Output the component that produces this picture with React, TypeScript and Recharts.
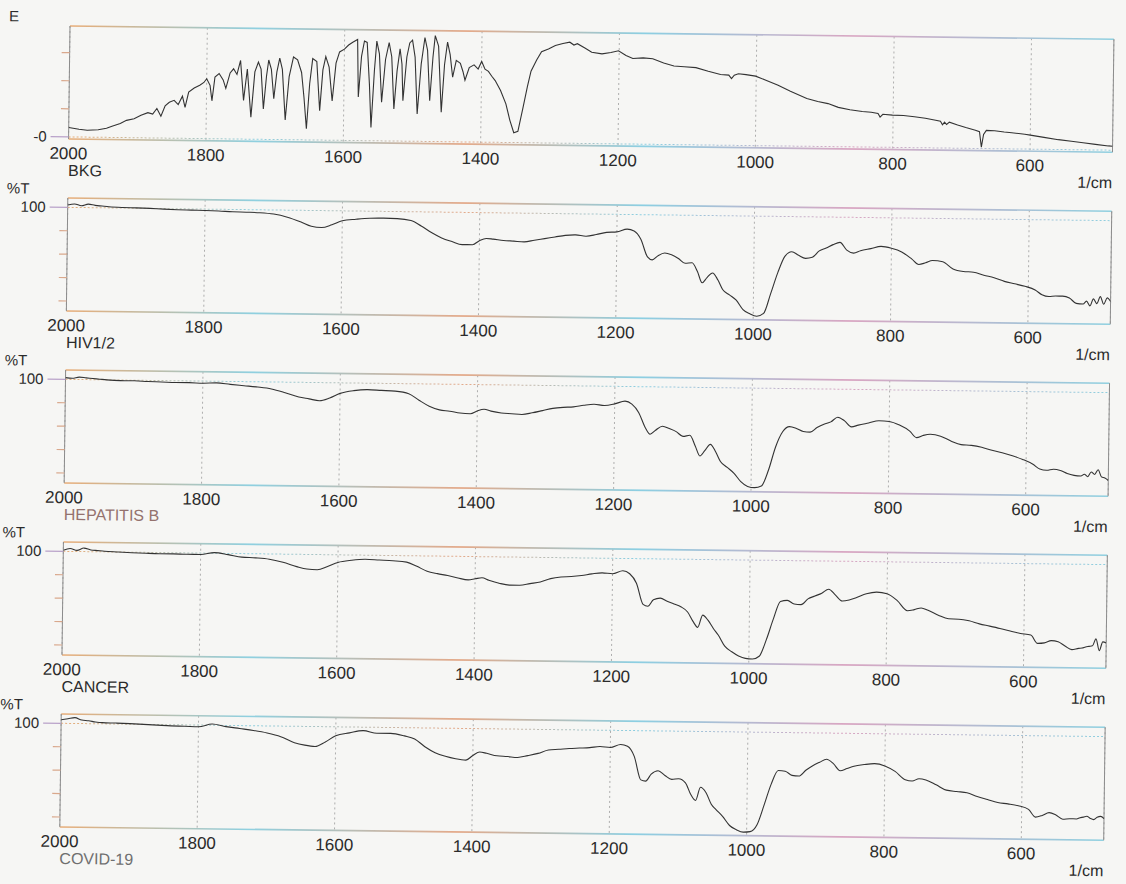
import { CartesianGrid, Line, LineChart, ReferenceLine, XAxis, YAxis } from "recharts";

// wavenumber ticks shared by every panel
const X_TICKS = [2000, 1800, 1600, 1400, 1200, 1000, 800, 600];

// background (BKG) scan, water vapour lines need a denser grid
const BKG_WN = [
  2000, 1985, 1973, 1957, 1945, 1937, 1925, 1916, 1905, 1895,
  1885, 1878, 1872, 1866, 1860, 1854, 1847, 1841, 1835, 1831,
  1826, 1818, 1810, 1804, 1800, 1795, 1792, 1788, 1782, 1776,
  1772, 1766, 1761, 1756, 1751, 1746, 1741, 1735, 1730, 1725,
  1721, 1717, 1713, 1710, 1706, 1702, 1698, 1694, 1690, 1685,
  1680, 1674, 1668, 1662, 1658, 1654, 1650, 1646, 1640, 1635,
  1631, 1627, 1622, 1617, 1612, 1607, 1600, 1594, 1588, 1581,
  1579, 1575, 1571, 1567, 1563, 1560, 1556, 1553, 1549, 1545,
  1540, 1535, 1531, 1527, 1523, 1519, 1516, 1514, 1509, 1505,
  1501, 1497, 1493, 1488, 1483, 1479, 1475, 1471, 1468, 1463,
  1458, 1454, 1450, 1446, 1442, 1437, 1431, 1427, 1424, 1418,
  1411, 1405, 1400, 1395, 1390, 1385, 1380, 1372, 1364, 1358,
  1352, 1346, 1339, 1333, 1328, 1320, 1313, 1303, 1293, 1282,
  1272, 1266, 1261, 1250, 1240, 1225, 1212, 1201, 1190, 1180,
  1165, 1151, 1135, 1120, 1105, 1088, 1070, 1052, 1040, 1036,
  1032, 1026, 1015, 1001, 985, 968, 950, 926, 910, 895,
  880, 863, 845, 832, 822, 819, 815, 801, 785, 769,
  753, 738, 731, 728, 725, 722, 718, 706, 694, 680,
  674, 671, 668, 664, 652, 638, 627, 617, 608, 600,
  580, 559, 540, 523, 505, 486, 480,
];
const BKG_T = [
  6.7, 5.5, 4.9, 5.3, 6.5, 8, 10, 12.3, 13.5, 16,
  18, 17, 21, 15.5, 23, 25.6, 27, 24, 30, 22,
  33, 36, 38, 40, 42.7, 38, 27, 44, 46.5, 42,
  36, 47, 50, 46, 56, 27.6, 50, 15.7, 48, 55,
  50, 21.6, 45, 56.6, 50, 29, 48, 58, 50, 14,
  45, 59, 57, 48, 30, 8, 40, 58, 56, 21,
  50, 59.5, 52, 28, 55, 63, 65, 68, 70, 72,
  31, 60, 71, 70, 40, 9.4, 50, 71, 62, 27.5,
  58, 70, 60, 22.8, 50, 65.8, 55, 28.8, 60, 70,
  72, 60, 19.5, 55, 74, 65, 29, 60, 75.5, 68,
  21, 55, 70.9, 62, 46, 58, 56, 50, 44, 53,
  55, 52, 57.5, 52, 50.5, 47, 44, 37, 27.5, 16,
  7, 8, 25, 40, 51, 59, 65, 67, 69.5, 71,
  72, 70, 71, 68, 65, 64, 65, 66.3, 63, 61,
  61.5, 61, 58, 56, 55.5, 55, 52.5, 50.4, 50, 47.5,
  50, 51, 50.5, 49.5, 46.5, 43.3, 39, 34, 32, 30.6,
  28, 26.4, 25.3, 24.8, 24, 21.5, 23.5, 23, 22.8, 22,
  21, 19.7, 19, 16.5, 18.5, 16.8, 18.5, 16.5, 14.8, 13,
  12, 1, 10, 13, 12.8, 12, 11.5, 11, 10.5, 10,
  8.5, 7, 6, 5, 4, 3, 2.8,
];

// sample spectra share one wavenumber grid
const WN = [
  2000, 1990, 1980, 1970, 1960, 1950, 1940, 1920, 1900, 1880,
  1860, 1840, 1820, 1800, 1780, 1760, 1740, 1720, 1700, 1680,
  1660, 1645, 1630, 1615, 1600, 1580, 1560, 1540, 1520, 1500,
  1485, 1470, 1455, 1440, 1425, 1410, 1400, 1390, 1380, 1365,
  1350, 1335, 1320, 1305, 1290, 1275, 1260, 1245, 1230, 1215,
  1200, 1185, 1175, 1165, 1155, 1148, 1140, 1130, 1120, 1110,
  1100, 1090, 1082, 1075, 1068, 1060, 1052, 1045, 1035, 1025,
  1015, 1005, 995, 985, 975, 965, 955, 945, 935, 925,
  915, 905, 895, 885, 875, 865, 855, 845, 830, 815,
  800, 785, 770, 760, 750, 740, 725, 710, 695, 680,
  665, 650, 635, 620, 605, 590, 580, 570, 560, 550,
  540, 530, 520, 515, 510, 505, 500, 495, 490, 485,
  480,
];
const HIV = [
  102, 103, 101.5, 103, 102, 101.5, 101, 100.5, 100.3, 100,
  99.5, 99.2, 99, 98.8, 98.5, 98, 97.8, 97.5, 96.5, 94,
  90, 86.5, 85.5, 88, 91.5, 93, 94, 94.2, 94, 92.5,
  88, 82.5, 78, 75, 72.5, 72.5, 76, 78, 77.5, 76.5,
  76, 75.5, 77, 78.5, 80, 81.5, 82, 81, 82.5, 84.5,
  85, 87.5, 86, 79, 64, 61.5, 65, 67.5, 66, 63,
  59, 59.5, 52, 42.5, 47, 51, 45, 37, 32.5, 28,
  20, 16.5, 14.5, 17, 34, 52, 66, 70, 67, 64.5,
  65.5, 71, 73.5, 76.5, 78.5, 72, 69.5, 71.5, 73.5, 75.5,
  74, 71, 65, 60.5, 62, 64, 63, 57, 55, 54.5,
  52, 50, 47, 45, 43, 40, 36, 34.5, 35, 35,
  33.5, 29, 28.5, 31, 27, 33, 29, 35, 28.5, 34,
  31,
];
const HEP_B = [
  101.5, 101, 102, 101.5, 101, 100.5, 100, 99.5, 99.5, 99,
  98.8, 98.5, 98.5, 98.2, 98.6, 97.5, 96.5, 95.5, 94, 91,
  87.5, 86, 84.5, 87, 91, 93.5, 94.5, 94, 93.5, 91.5,
  86, 81, 78, 77, 75.5, 75, 77.5, 79, 77.5, 76,
  75.5, 75, 76.5, 78.5, 80.5, 81.5, 82, 83.5, 84.5, 83.5,
  85, 87.5, 85, 78, 65, 59.5, 63, 66.5, 64.5, 62,
  58, 59, 50, 41.5, 46, 51.5, 45, 37, 32, 27,
  20, 16, 15, 16.5, 30, 50, 63, 67.5, 66, 63.5,
  63, 67, 70, 72, 76, 73, 68, 69.5, 71.5, 73.5,
  73, 70, 65, 59.5, 61.5, 62.5, 61, 57, 54, 53.5,
  52, 49.5, 47.5, 45, 42, 38, 34, 33, 34, 33,
  30.5, 29, 28.5, 30, 28, 32, 30, 34, 28, 27,
  25,
];
const CANCER = [
  101, 102.5, 101, 103, 101.5, 101, 100.5, 100, 99.5, 99.2,
  99, 99, 98.8, 98.8, 100.5, 99, 97, 96.5, 95.5, 93,
  89.5, 87.5, 87, 90, 93.5, 95.5, 96.5, 96, 95.5, 94.5,
  91, 87, 85, 83.5, 81.5, 80, 81, 82, 80, 77.5,
  76, 76, 77.5, 79, 82, 83.5, 84, 85, 86.5, 87.5,
  86.8, 89.5, 87, 79, 61, 59.5, 65, 66.5, 64, 61.7,
  59.4, 55, 47, 42, 52.5, 48, 41, 35.7, 26, 21.5,
  18, 16, 15.5, 18, 32, 50, 65, 66, 63, 62.5,
  67.5, 70, 72.5, 76, 71, 66, 67, 69, 72.5, 74,
  72.8, 67, 58.5, 59.5, 61, 59, 55, 52, 51.8, 50.5,
  48, 46.2, 44.3, 42.2, 40.3, 39, 32, 32.5, 34.5, 33.6,
  30, 27, 28.2, 28.5, 29.5, 30, 30.5, 36.5, 26.5, 34,
  33,
];
const COVID = [
  103, 104, 105, 103, 102.5, 101.5, 101, 100.8, 100.5, 100,
  99.5, 99, 98.8, 98.5, 101, 99, 97.5, 96, 94, 91,
  86, 84, 83, 87, 92.4, 95, 97, 95, 95, 93,
  90.5, 84, 79, 76, 74, 73, 77, 80, 79, 77,
  76.5, 75.8, 77.5, 79.5, 82.5, 83.2, 84, 84.5, 85, 86,
  85.3, 88, 86.5, 78, 58, 57, 63, 66, 62, 58.8,
  59.4, 56, 46, 41, 52.4, 48, 38, 33.5, 27.5, 20,
  16.5, 14.5, 15, 21, 38, 56, 67.5, 67, 63.5, 63,
  68, 72, 75, 77.6, 74, 68, 70, 72, 73.5, 74.4,
  72.6, 68, 61, 60, 62, 61, 57, 52.6, 51.5, 50.6,
  47.5, 45, 42.6, 41.5, 40, 37, 30.5, 32, 34.5, 32.5,
  29, 29.5, 29.4, 30.5, 31, 31.8, 30, 29, 31, 31.8,
  30,
];

const FONT = '"Liberation Sans", Arial, sans-serif';
const INK = "#2b2b2b";
const CHART_W = 1126;
const M_TOP = 10;
const PLOT_H = 113;
const CHART_H = M_TOP + PLOT_H + 30 + 19;
const TOPS = [26, 198, 370, 542, 714];

const toRows = (xs: number[], ys: number[]) => xs.map((wn, i) => ({ wn, t: ys[i] }));

const PANELS = [
  { name: "BKG", color: INK, corner: "E", data: toRows(BKG_WN, BKG_T), domain: [-1.5, 79], ticks: [0, 20, 40, 60], ref: 0, curve: "linear" },
  { name: "HIV1/2", color: INK, corner: "%T", data: toRows(WN, HIV), domain: [11.5, 108], ticks: [20, 40, 60, 80, 100], ref: 100, curve: "monotone" },
  { name: "HEPATITIS B", color: "#94726e", corner: "%T", data: toRows(WN, HEP_B), domain: [11.5, 108], ticks: [20, 40, 60, 80, 100], ref: 100, curve: "monotone" },
  { name: "CANCER", color: INK, corner: "%T", data: toRows(WN, CANCER), domain: [11.5, 108], ticks: [20, 40, 60, 80, 100], ref: 100, curve: "monotone" },
  { name: "COVID-19", color: "#6f6f6f", corner: "%T", data: toRows(WN, COVID), domain: [11.5, 108], ticks: [20, 40, 60, 80, 100], ref: 100, curve: "monotone" },
];

function YTick(props: any) {
  const { x, y, payload } = props;
  const v = payload?.value;
  const text = v === 100 ? "100" : v === 0 ? "-0" : "";
  const len = text ? 18 : 8;
  return (
    <g>
      <line x1={x - len} x2={x} y1={y} y2={y} stroke={text ? "#b9a2c9" : "#d9a88c"} strokeWidth={1.2} />
      {text ? (
        <text x={x - len - 4} y={y + 5} textAnchor="end" fontSize={15} fontFamily={FONT} fill={INK}>
          {text}
        </text>
      ) : null}
    </g>
  );
}

function Panel({ p, i }: { p: (typeof PANELS)[number]; i: number }) {
  const gid = `edge-${i}`;
  const edge = `url(#${gid})`;
  return (
    <div style={{ position: "absolute", left: 0, top: TOPS[i] - M_TOP }}>
      <LineChart
        width={CHART_W}
        height={CHART_H}
        data={p.data}
        margin={{ top: M_TOP, right: 12, bottom: 19, left: 10 }}
      >
        <defs>
          <linearGradient id={gid} gradientUnits="userSpaceOnUse" x1={70} y1={0} x2={1114} y2={0}>
            <stop offset="0" stopColor="#e8ad78" />
            <stop offset="0.18" stopColor="#8fd0e0" />
            <stop offset="0.38" stopColor="#e4aa8a" />
            <stop offset="0.55" stopColor="#8ccfe2" />
            <stop offset="0.75" stopColor="#d9a6c2" />
            <stop offset="1" stopColor="#8fd0e0" />
          </linearGradient>
        </defs>
        <CartesianGrid horizontal={false} stroke="#9c9c9c" strokeDasharray="2 3" strokeWidth={0.8} />
        <XAxis
          dataKey="wn"
          type="number"
          domain={[480, 2000]}
          reversed
          ticks={X_TICKS}
          interval={0}
          allowDataOverflow
          axisLine={false}
          tickLine={false}
          tickSize={0}
          tickMargin={8}
          height={30}
          tick={{ fontSize: 17, fill: INK, fontFamily: FONT }}
        />
        <YAxis
          domain={p.domain}
          ticks={p.ticks}
          interval={0}
          allowDataOverflow
          width={60}
          axisLine={false}
          tickLine={false}
          tickSize={0}
          tickMargin={0}
          tick={<YTick />}
        />
        <ReferenceLine y={p.ref} stroke={edge} strokeDasharray="2 2" />
        <ReferenceLine y={p.domain[1]} stroke={edge} strokeWidth={1.6} />
        <ReferenceLine y={p.domain[0]} stroke={edge} strokeWidth={1.6} />
        <ReferenceLine x={2000} stroke="#8c8c8c" />
        <ReferenceLine x={480} stroke="#8c8c8c" />
        <Line
          type={p.curve as any}
          dataKey="t"
          stroke="#333"
          strokeWidth={1.1}
          dot={false}
          isAnimationActive={false}
        />
      </LineChart>
    </div>
  );
}

export default function App() {
  return (
    <div
      style={{
        position: "absolute",
        left: 0,
        top: 0,
        width: 1126,
        height: 884,
        overflow: "hidden",
        background: "#f6f6f4",
      }}
    >
      <div
        style={{
          position: "absolute",
          left: 0,
          top: 0,
          width: 1126,
          height: 884,
          transform: "rotate(0.73deg)",
          transformOrigin: "70px 26px",
        }}
      >
        {PANELS.map((p, i) => (
          <Panel key={p.name} p={p} i={i} />
        ))}
        <svg
          width={1126}
          height={884}
          style={{ position: "absolute", left: 0, top: 0, pointerEvents: "none" }}
          fontFamily={FONT}
        >
          {PANELS.map((p, i) => {
            const top = TOPS[i];
            const bottom = top + PLOT_H;
            return (
              <g key={p.name}>
                <text x={9} y={top - 4} fontSize={15} fill={INK}>
                  {p.corner}
                </text>
                <text x={70} y={bottom + 37} fontSize={16} fill={p.color}>
                  {p.name}
                </text>
                <text x={1114} y={bottom + 36} fontSize={16} fill={INK} textAnchor="end">
                  1/cm
                </text>
              </g>
            );
          })}
        </svg>
      </div>
    </div>
  );
}
